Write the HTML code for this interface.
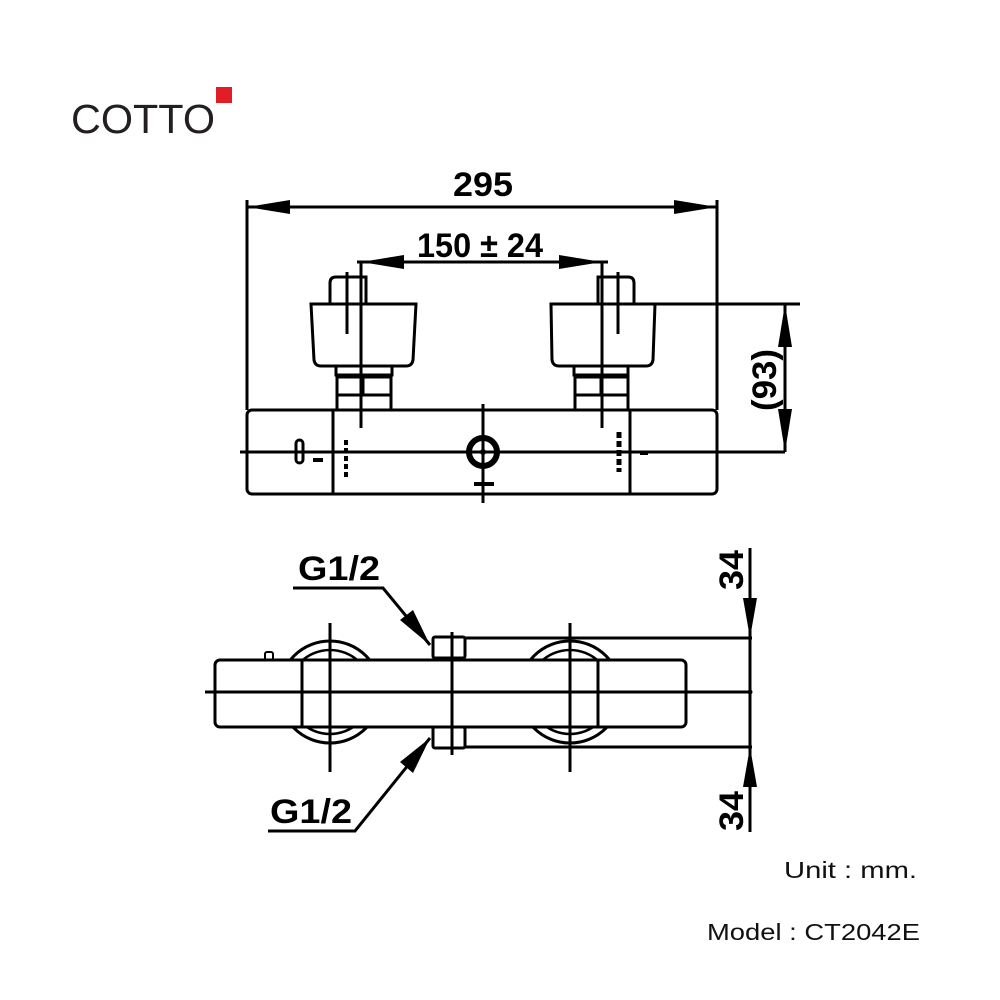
<!DOCTYPE html>
<html><head><meta charset="utf-8"><style>body{margin:0;background:#fff}svg{display:block}</style></head>
<body>
<svg width="1000" height="1000" viewBox="0 0 1000 1000" xmlns="http://www.w3.org/2000/svg" font-family="Liberation Sans, sans-serif">
<rect width="1000" height="1000" fill="#fff"/>
<!-- logo -->
<text x="71" y="133" font-size="41" fill="#231f20" textLength="144" lengthAdjust="spacingAndGlyphs">COTTO</text>
<rect x="216" y="87" width="16" height="16" fill="#e21d25"/>

<g stroke="#000" fill="none" stroke-width="3">
<!-- top view -->
<line x1="247" y1="200" x2="247" y2="410"/>
<line x1="717" y1="200" x2="717" y2="410"/>
<line x1="247" y1="207" x2="717" y2="207"/>
<rect x="247" y="410" width="470" height="84" rx="5"/>
<line x1="333" y1="410" x2="333" y2="494"/>
<line x1="630" y1="410" x2="630" y2="494"/>
<line x1="240" y1="452" x2="785" y2="452"/>
<line x1="483" y1="404" x2="483" y2="503"/>
<circle cx="483" cy="452" r="14" stroke-width="6"/>
<line x1="357" y1="262" x2="608" y2="262"/>
<line x1="361" y1="262" x2="361" y2="428"/>
<line x1="602" y1="262" x2="602" y2="428"/>
<!-- left handle -->
<path d="M330 303 V283 Q330 277 336 277 H366 V303"/>
<path d="M311 304 H416 L413 360 Q412 366 406 366 H321 Q315 366 314 360 Z"/>
<path d="M336 366 V375 H392 V366"/>
<rect x="337" y="377" width="54" height="18"/>
<line x1="363" y1="377" x2="363" y2="395"/>
<path d="M337 395 V410 M391 395 V410"/>
<line x1="347" y1="272" x2="347" y2="334"/>
<!-- right handle -->
<path d="M598 303 V277 H628 Q634 277 634 283 V303"/>
<path d="M551 304 H655 L653 360 Q652 366 646 366 H559 Q553 366 552 360 Z"/>
<path d="M574 366 V375 H628 V366"/>
<rect x="575" y="377" width="53" height="18"/>
<line x1="601" y1="377" x2="601" y2="395"/>
<path d="M575 395 V410 M628 395 V410"/>
<line x1="618" y1="272" x2="618" y2="334"/>
<!-- (93) -->
<line x1="655" y1="304" x2="800" y2="304"/>
<line x1="785" y1="304" x2="785" y2="452"/>
<!-- small marks -->
<rect x="296" y="440" width="7" height="23" rx="3.5"/>
<line x1="346" y1="440" x2="346" y2="478" stroke-width="4" stroke-dasharray="5 3"/>
<line x1="619" y1="432" x2="619" y2="472" stroke-width="5" stroke-dasharray="6 3"/>

<!-- bottom view -->
<circle cx="330" cy="692" r="51"/>
<circle cx="330" cy="692" r="42" stroke-width="2.5"/>
<circle cx="570" cy="692" r="51"/>
<circle cx="570" cy="692" r="42" stroke-width="2.5"/>
<rect x="215" y="660" width="471" height="67" rx="5" fill="#fff"/>
<line x1="302" y1="660" x2="302" y2="727"/>
<line x1="598" y1="660" x2="598" y2="727"/>
<rect x="265" y="652" width="8" height="8" rx="2" stroke-width="2"/>
<line x1="205" y1="692" x2="752" y2="692"/>
<line x1="330" y1="623" x2="330" y2="772"/>
<line x1="570" y1="623" x2="570" y2="772"/>
<rect x="433" y="637" width="32" height="21" rx="2" fill="#fff"/>
<rect x="433" y="727" width="32" height="21" rx="2" fill="#fff"/>
<line x1="452" y1="632" x2="452" y2="755"/>
<line x1="465" y1="638" x2="752" y2="638"/>
<line x1="465" y1="747" x2="752" y2="747"/>
<line x1="750" y1="548" x2="750" y2="832"/>
<polyline points="293,588 383,588 430,645"/>
<polyline points="268,831 355,831 430,738"/>
</g>
<g fill="#000">
<circle cx="750" cy="692" r="2.5"/>
<circle cx="483" cy="452" r="3"/>
<rect x="313" y="458" width="10" height="4"/>
<rect x="640" y="451" width="8" height="4"/>
<rect x="474" y="482" width="20" height="4"/>
<!-- arrows -->
<polygon points="247,207 290,200 290,214"/>
<polygon points="717,207 674,200 674,214"/>
<polygon points="361,262 404,255 404,269"/>
<polygon points="602,262 559,255 559,269"/>
<polygon points="785,304 778,347 792,347"/>
<polygon points="785,452 778,409 792,409"/>
<polygon points="750,638 743,598 757,598"/>
<polygon points="750,747 743,787 757,787"/>
<polygon points="430,645 400,620 413,610"/>
<polygon points="430,738 400,762 413,773"/>
</g>
<g font-weight="bold" fill="#000" font-size="34">
<text x="483" y="196" text-anchor="middle" textLength="60" lengthAdjust="spacingAndGlyphs">295</text>
<text x="480" y="257" text-anchor="middle" textLength="126" lengthAdjust="spacingAndGlyphs">150 ± 24</text>
<text transform="translate(776,380) rotate(-90)" text-anchor="middle" textLength="62" lengthAdjust="spacingAndGlyphs">(93)</text>
<text x="298" y="580" textLength="82" lengthAdjust="spacingAndGlyphs">G1/2</text>
<text x="270" y="823" textLength="82" lengthAdjust="spacingAndGlyphs">G1/2</text>
<text transform="translate(743,570) rotate(-90)" text-anchor="middle" textLength="40" lengthAdjust="spacingAndGlyphs">34</text>
<text transform="translate(743,811) rotate(-90)" text-anchor="middle" textLength="40" lengthAdjust="spacingAndGlyphs">34</text>
</g>
<g font-size="23" fill="#111">
<text x="917" y="878" text-anchor="end" textLength="133" lengthAdjust="spacingAndGlyphs">Unit : mm.</text>
<text x="920" y="940" text-anchor="end" textLength="213" lengthAdjust="spacingAndGlyphs">Model : CT2042E</text>
</g>
</svg>
</body></html>
